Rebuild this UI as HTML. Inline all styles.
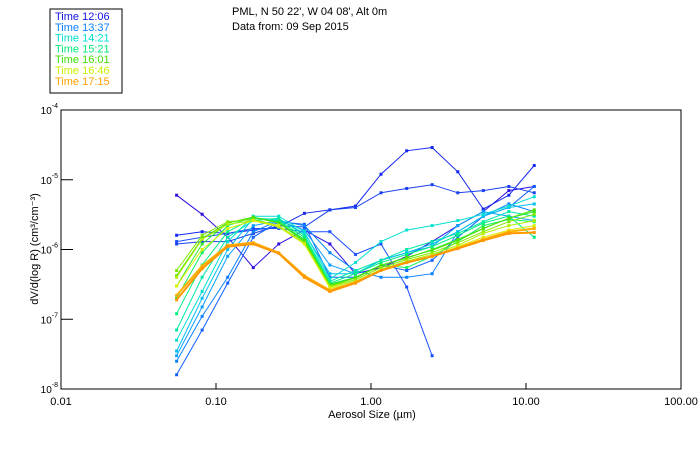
<!DOCTYPE html>
<html><head><meta charset="utf-8"><style>
body{margin:0;background:#fff;}
svg{display:block;font-family:"Liberation Sans",sans-serif;}
</style></head><body>
<svg id="chart" width="700" height="450">
<g>
<rect x="50" y="9" width="72" height="84" fill="none" stroke="#000" stroke-width="1"/>
<g id="legendItems" font-size="11"></g>
</g>
<text x="232" y="15" font-size="11">PML, N 50 22', W 04 08', Alt 0m</text>
<text x="232" y="30" font-size="11">Data from: 09 Sep 2015</text>
<g id="axes"></g>
<g id="series"></g>
<text x="372" y="418" font-size="11" text-anchor="middle">Aerosol Size (µm)</text>
<text transform="translate(38,249) rotate(-90)" font-size="11" text-anchor="middle">dV/d(log R) (cm³/cm⁻³)</text>
</svg>
<script>
const sizes=[0.0557,0.0814,0.119,0.174,0.254,0.372,0.543,0.794,1.16,1.70,2.48,3.63,5.30,7.75,11.3];
const xTicks=[0.01,0.1,1,10,100];
const xTickLabels=["0.01","0.10","1.00","10.00","100.00"];
const yTicks=[1e-4,1e-5,1e-6,1e-7,1e-8];
const yTickExps=["-4","-5","-6","-7","-8"];
const legendLabels=["Time 12:06","Time 13:37","Time 14:21","Time 15:21","Time 16:01","Time 16:46","Time 17:15"];
const legendColors=["#1414e6","#0a82ff","#00e0d0","#00e878","#40e000","#c8f000","#ffa000"];
const seriesColors=["#3010e0","#1428f0","#1840f0","#1a50ff","#1060ff","#0a82ff","#0aa0ff","#00c0f0","#00e0d0","#00e8a8","#00f080","#10f060","#30e830","#50e000","#80e800","#b0f000","#d8f000","#ffb000","#ff9800"];
const series=[
[6e-6,3.2e-6,1.5e-6,5.5e-7,1.2e-6,1.9e-6,1.2e-6,4.5e-7,5.5e-7,8e-7,1.3e-6,2.2e-6,3.5e-6,7e-6,8e-6],
[1.6e-6,1.8e-6,1.7e-6,1.9e-6,2.1e-6,3.3e-6,3.7e-6,4.2e-6,1.2e-5,2.6e-5,2.9e-5,1.3e-5,3.8e-6,6e-6,1.6e-5],
[1.2e-6,1.3e-6,1.3e-6,1.7e-6,2.2e-6,2.1e-6,3.7e-6,4e-6,6.5e-6,7.5e-6,8.5e-6,6.5e-6,7e-6,8e-6,6.5e-6],
[1.3e-6,1.5e-6,1.7e-6,2e-6,2e-6,1.8e-6,1.8e-6,8.5e-7,1.2e-6,2.9e-7,3e-8],
[1.6e-8,7e-8,3.3e-7,1.5e-6,2.5e-6,2.3e-6,4e-7,4e-7,6e-7,5e-7,7e-7,1.5e-6,3e-6,4e-6,8e-6],
[2.5e-8,1.1e-7,4e-7,1.8e-6,2.6e-6,2.2e-6,9e-7,5e-7,4e-7,4e-7,4.5e-7,1.8e-6,3e-6,4.5e-6,3.5e-6],
[3e-8,1.5e-7,8e-7,2.2e-6,2.6e-6,1.9e-6,6e-7,4.5e-7,7e-7,9e-7,1.1e-6,2.2e-6,3.5e-6,3e-6,2.6e-6],
[3.5e-8,2e-7,1e-6,2.8e-6,2.7e-6,1.7e-6,4.5e-7,4.5e-7,7e-7,9e-7,1.2e-6,1.8e-6,3e-6,4e-6,4.5e-6],
[5e-8,2.5e-7,1.3e-6,3e-6,3e-6,1.8e-6,3.8e-7,6.5e-7,1.3e-6,1.9e-6,2.2e-6,2.6e-6,3.2e-6,4.2e-6,5.7e-6],
[7e-8,4e-7,1.5e-6,2.6e-6,2.8e-6,1.6e-6,3.5e-7,5e-7,7e-7,1e-6,1.3e-6,1.7e-6,2.5e-6,3.5e-6,3e-6],
[1.2e-7,6e-7,1.8e-6,2.8e-6,2.6e-6,1.5e-6,3.3e-7,4.5e-7,6.5e-7,8.5e-7,1.1e-6,1.6e-6,2.4e-6,3e-6,1.5e-6],
[2e-7,9e-7,2.2e-6,2.9e-6,2.5e-6,1.4e-6,3.2e-7,4e-7,6e-7,5.5e-7,8e-7,1.3e-6,2.2e-6,2.7e-6,2.5e-6],
[3e-7,1.2e-6,2.4e-6,2.9e-6,2.4e-6,1.3e-6,3e-7,4e-7,6e-7,7.5e-7,1e-6,1.4e-6,2e-6,2.8e-6,3.5e-6],
[4.2e-7,1.45e-6,2.4e-6,2.9e-6,2.4e-6,1.35e-6,3.1e-7,3.9e-7,5.9e-7,7.7e-7,9.7e-7,1.35e-6,2e-6,2.8e-6,3.7e-6],
[5e-7,1.6e-6,2.5e-6,2.7e-6,2.2e-6,1.25e-6,3e-7,3.7e-7,5.5e-7,7.2e-7,9e-7,1.25e-6,1.8e-6,2.5e-6,3.2e-6],
[4e-7,1.4e-6,2.3e-6,2.6e-6,2.1e-6,1.2e-6,2.9e-7,3.5e-7,5.2e-7,6.8e-7,8.5e-7,1.15e-6,1.7e-6,2.2e-6,2.6e-6],
[3e-7,1e-6,2e-6,2.6e-6,2.2e-6,1.2e-6,2.8e-7,3.3e-7,5e-7,6.5e-7,8e-7,1.1e-6,1.5e-6,1.9e-6,2.2e-6],
[2.2e-7,5.8e-7,1.15e-6,1.25e-6,9e-7,4.2e-7,2.6e-7,3.4e-7,5e-7,6.5e-7,8e-7,1.05e-6,1.4e-6,1.8e-6,2e-6],
[1.9e-7,5.3e-7,1.1e-6,1.2e-6,8.8e-7,4e-7,2.5e-7,3.3e-7,5e-7,6.5e-7,8e-7,1.03e-6,1.35e-6,1.7e-6,1.75e-6]
];
const NS="http://www.w3.org/2000/svg";
const X0=61,X1=681,Y0=110,Y1=389;
function xs(v){return X0+(Math.log10(v)+2)/4*(X1-X0);}
function ys(v){return Y0+(-4-Math.log10(v))/4*(Y1-Y0);}
function mk(tag,attrs,parent){const e=document.createElementNS(NS,tag);for(const k in attrs)e.setAttribute(k,attrs[k]);parent.appendChild(e);return e;}
const axes=document.getElementById('axes');
const frame=mk('rect',{x:X0,y:Y0,width:X1-X0,height:Y1-Y0,fill:'none',stroke:'#000','stroke-width':1},axes);


xTicks.forEach((t,i)=>{
  const x=xs(t);
  const tk=mk('line',{x1:x,x2:x,y1:Y1,y2:Y1-6,stroke:'#000'},axes);
  
  
  const tx=mk('text',{x:x,y:Y1+16,'font-size':11,'text-anchor':'middle'},axes);
  tx.textContent=xTickLabels[i];
  
  
});
yTicks.forEach((t,i)=>{
  const y=ys(t);
  const tk=mk('line',{x1:X0,x2:X0+12,y1:y,y2:y,stroke:'#000'},axes);
  
  
  const tx=mk('text',{x:X0-3,y:y+4,'font-size':10,'text-anchor':'end'},axes);
  tx.textContent='10';
  const sp=mk('tspan',{dy:-6,'font-size':7},tx);
  sp.textContent=yTickExps[i];
  
  
});
const li=document.getElementById('legendItems');
legendLabels.forEach((l,i)=>{
  const t=mk('text',{x:55,y:20+i*10.8,fill:legendColors[i],'font-size':11},li);
  t.textContent=l;
  
  
});
const sg=document.getElementById('series');
series.forEach((vals,si)=>{
  const g=mk('g',{},sg);
  
  
  const col=seriesColors[si];
  const pts=vals.map((v,i)=>xs(sizes[i]).toFixed(1)+','+ys(v).toFixed(1)).join(' ');
  const w=si>=17?2:1;
  const pl=mk('polyline',{points:pts,fill:'none',stroke:col,'stroke-width':w},g);
  
  
  vals.forEach((v,i)=>{
    const r=mk('rect',{x:xs(sizes[i])-1.5,y:ys(v)-1.5,width:3,height:3,fill:col},g);
    
    
  });
});
</script>
</body></html>
